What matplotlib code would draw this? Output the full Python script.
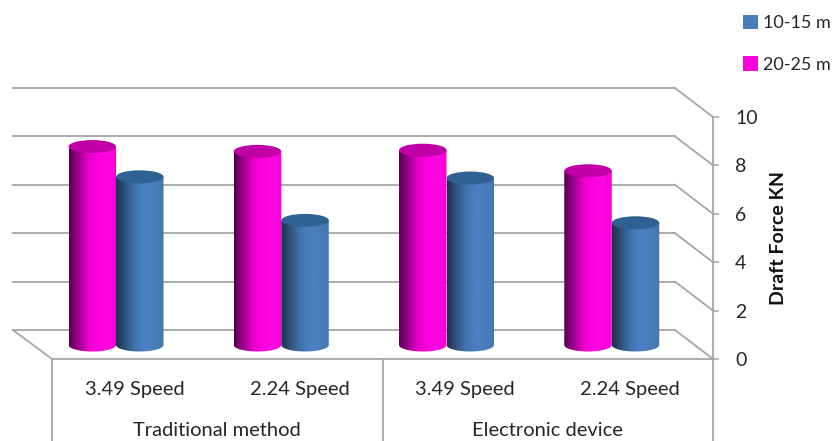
import numpy as np
import matplotlib
matplotlib.use('Agg')
import matplotlib.pyplot as plt
from matplotlib.colors import LinearSegmentedColormap
from matplotlib.patches import Ellipse, Patch, PathPatch
from matplotlib.path import Path

speed_labels = ['3.49 Speed', '2.24 Speed', '3.49 Speed', '2.24 Speed']
group_labels = ['Traditional method', 'Electronic device']
series_names = ['10-15 m', '20-25 m']
force_10_15 = [6.95, 5.15, 6.9, 5.05]
force_20_25 = [8.2, 8.0, 8.05, 7.2]
y_ticks = [0, 2, 4, 6, 8, 10]

GRID = '#a6a6a6'
TEXT = '#262626'
BLUE = '#4a7ebb'
PINK = '#ff00dd'

plt.rcParams['font.family'] = ['Lato', 'DejaVu Sans']

W, H = 833, 441
fig = plt.figure(figsize=(W / 100, H / 100), dpi=100)
# plot box is the front edge of the floor, 52-713 px across and 117-359 px down
ax = fig.add_axes([52 / W, 1 - 359 / H, 661 / W, 242 / H])
ax.set_xlim(0, 4)
ax.set_ylim(0, 10)

# depth of the fake 3d box, in axis units
dx = 38 / 165.25
dy = 29 / 24.2

# back wall lines and the diagonals running to the axis
for t in y_ticks:
    ax.plot([-dx * 1.03, 4 - dx], [t + dy, t + dy], color=GRID, lw=1.3, clip_on=False, zorder=1)
    ax.plot([4 - dx, 4], [t + dy, t], color=GRID, lw=1.3, clip_on=False, zorder=1)
ax.plot([-dx * 1.03, 0], [dy, 0], color=GRID, lw=1.3, clip_on=False, zorder=1)

cmap_pink = LinearSegmentedColormap.from_list('p', ['#54004a', '#a00090', '#e800c8', '#ff00e0', '#ff08e2', '#f800d8'])
cmap_blue = LinearSegmentedColormap.from_list('b', ['#1c3047', '#2f5580', '#4173ad', '#4a80c4', '#4a7ebb', '#4577b2'])
gradient = np.linspace(0, 1, 128).reshape(1, -1)

bar_w = 47.5 / 165.25
cap_h = 13 / 24.2
base = 14 / 24.2
shift = 18.6 / 165.25


def cylinder(x0, value, cmap, top_color, z):
    """one cylinder, x0 is its left edge and value its height"""
    x1 = x0 + bar_w
    xc = (x0 + x1) / 2
    top = value + base
    a = np.linspace(np.pi, 2 * np.pi, 40)
    lower = np.column_stack([xc + bar_w / 2 * np.cos(a), base + cap_h / 2 * np.sin(a)])
    outline = np.vstack([lower, [[x1, top], [x0, top]], lower[:1]])
    body = PathPatch(Path(outline), facecolor='none', edgecolor='none', zorder=z)
    ax.add_patch(body)
    im = ax.imshow(gradient, cmap=cmap, extent=[x0, x1, base - cap_h, top], aspect='auto',
                   zorder=z, interpolation='bilinear')
    im.set_clip_path(body)
    ax.add_patch(Ellipse((xc, top), bar_w, cap_h, facecolor=top_color, edgecolor='none', zorder=z + 0.1))


for i in range(4):
    cylinder(i + 0.5 - shift, force_10_15[i], cmap_blue, '#2f6193', 3)
    cylinder(i + 0.5 - shift - bar_w, force_20_25[i], cmap_pink, '#c000a6', 4)

ax.set_xlim(0, 4)
ax.set_ylim(0, 10)

for side in ['top', 'left']:
    ax.spines[side].set_visible(False)
for side in ['right', 'bottom']:
    ax.spines[side].set_color(GRID)
    ax.spines[side].set_linewidth(1.3)

# group separators below the floor
y_low = -82 / 24.2
for x in [0, 2, 4]:
    ax.plot([x, x], [0, y_low], color=GRID, lw=1.3, clip_on=False, zorder=1)

ax.yaxis.tick_right()
ax.set_yticks(y_ticks)
ax.tick_params(axis='y', length=4, width=1.1, color=GRID, pad=12, labelsize=14, labelcolor=TEXT)
ax.set_xticks(np.arange(4) + 0.5)
ax.set_xticklabels(speed_labels)
ax.tick_params(axis='x', length=0, pad=16, labelsize=14.5, labelcolor=TEXT)

ax.text(1, -72 / 24.2, group_labels[0], ha='center', va='center', fontsize=14.5, color=TEXT)
ax.text(3, -72 / 24.2, group_labels[1], ha='center', va='center', fontsize=14.5, color=TEXT)

fig.text(778 / W, 1 - 238 / H, 'Draft Force KN', rotation=90, ha='center', va='center',
         fontsize=14, fontweight='bold', color='#111111')

handles = [Patch(facecolor=BLUE, edgecolor='none'), Patch(facecolor=PINK, edgecolor='none')]
fig.legend(handles, series_names, loc='upper left', bbox_to_anchor=(739.5 / W, 1 - 11 / H), frameon=False,
           fontsize=13, labelcolor=TEXT, handlelength=0.85, handleheight=0.85, handletextpad=0.25,
           labelspacing=1.4, borderpad=0.2, borderaxespad=0)

fig.savefig('out.png', dpi=100)
